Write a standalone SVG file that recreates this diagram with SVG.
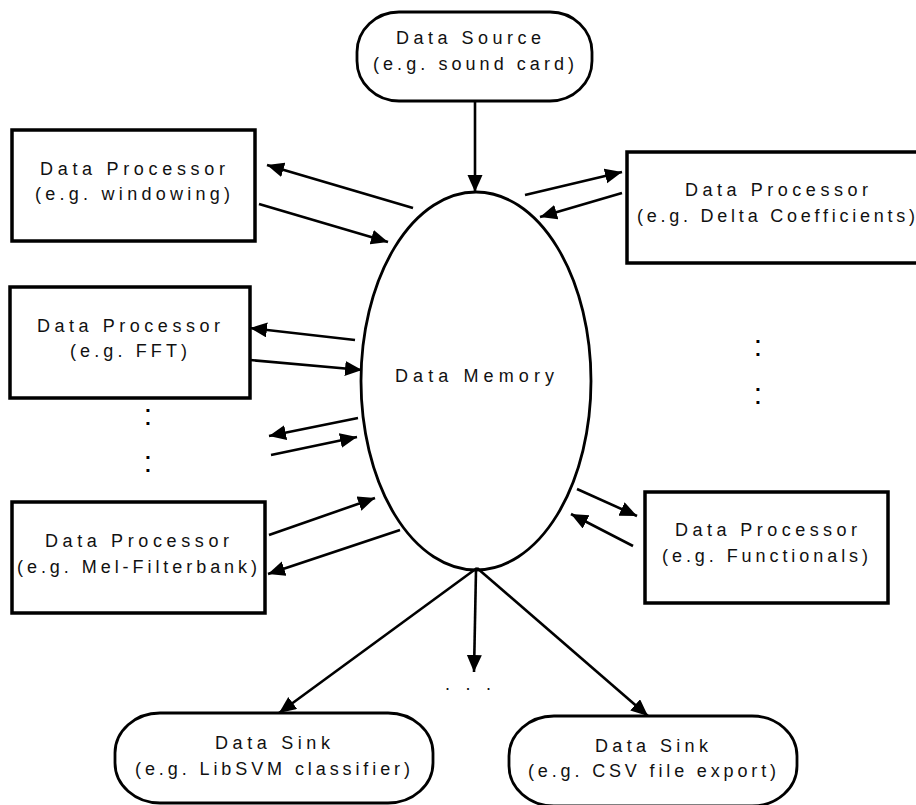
<svg xmlns="http://www.w3.org/2000/svg" width="916" height="805" viewBox="0 0 916 805">
<defs>
<style>
.box{fill:#fff;stroke:#000;stroke-width:3.5}
.rbox{fill:#fff;stroke:#000;stroke-width:2.8}
.t{font-family:"Liberation Sans",Arial,sans-serif;font-size:18px;fill:#111}
.dot{font-family:"Liberation Sans",Arial,sans-serif;font-size:30px;fill:#000;text-anchor:middle}
.c line{stroke:#000;stroke-width:2.6;marker-end:url(#ah)}
</style>
<marker id="ah" markerUnits="userSpaceOnUse" markerWidth="18" markerHeight="16" refX="17" refY="7.5" orient="auto">
<path d="M0,0 L17,7.5 L0,15 z" fill="#000"/>
</marker>
</defs>
<rect width="916" height="805" fill="#fff"/>

<g id="source">
<rect class="rbox" x="357" y="12" width="235" height="89" rx="42" ry="40"/>
<text class="t" x="396" y="44" textLength="145" lengthAdjust="spacing">Data Source</text>
<text class="t" x="373" y="70" textLength="201" lengthAdjust="spacing">(e.g. sound card)</text>
</g>

<g id="memory">
<ellipse cx="476" cy="381" rx="115" ry="189" fill="#fff" stroke="#000" stroke-width="2.8"/>
<text class="t" x="395" y="382" textLength="159" lengthAdjust="spacing">Data Memory</text>
</g>

<g id="proc-windowing">
<rect class="box" x="12" y="130" width="243" height="111"/>
<text class="t" x="40" y="175" textLength="185" lengthAdjust="spacing">Data Processor</text>
<text class="t" x="35" y="200" textLength="195" lengthAdjust="spacing">(e.g. windowing)</text>
</g>

<g id="proc-fft">
<rect class="box" x="10" y="287" width="240" height="111"/>
<text class="t" x="37" y="332" textLength="183" lengthAdjust="spacing">Data Processor</text>
<text class="t" x="70" y="357" textLength="117" lengthAdjust="spacing">(e.g. FFT)</text>
</g>

<g id="proc-mel">
<rect class="box" x="12" y="502" width="253" height="111"/>
<text class="t" x="45" y="547" textLength="184" lengthAdjust="spacing">Data Processor</text>
<text class="t" x="17" y="573" textLength="240" lengthAdjust="spacing">(e.g. Mel-Filterbank)</text>
</g>

<g id="proc-delta">
<rect class="box" x="627" y="152" width="295" height="111"/>
<text class="t" x="685" y="196" textLength="183" lengthAdjust="spacing">Data Processor</text>
<text class="t" x="637" y="222" textLength="278" lengthAdjust="spacing">(e.g. Delta Coefficients)</text>
</g>

<g id="proc-functionals">
<rect class="box" x="645" y="492" width="243" height="111"/>
<text class="t" x="675" y="536" textLength="182" lengthAdjust="spacing">Data Processor</text>
<text class="t" x="662" y="562" textLength="206" lengthAdjust="spacing">(e.g. Functionals)</text>
</g>

<g id="sink-libsvm">
<rect class="rbox" x="115" y="713" width="318" height="90" rx="45" ry="40"/>
<text class="t" x="215" y="749" textLength="115" lengthAdjust="spacing">Data Sink</text>
<text class="t" x="135" y="775" textLength="275" lengthAdjust="spacing">(e.g. LibSVM classifier)</text>
</g>

<g id="sink-csv">
<rect class="rbox" x="509" y="716" width="288" height="90" rx="45" ry="40"/>
<text class="t" x="595" y="752" textLength="113" lengthAdjust="spacing">Data Sink</text>
<text class="t" x="528" y="777" textLength="248" lengthAdjust="spacing">(e.g. CSV file export)</text>
</g>

<g id="ellipses">
<text class="dot" x="148" y="425">:</text>
<text class="dot" x="148" y="472">:</text>
<text class="dot" x="758" y="356">:</text>
<text class="dot" x="758" y="404">:</text>
<text class="t" x="445" y="690" textLength="46" lengthAdjust="spacing">...</text>
</g>

<g id="connectors" class="c">
<line x1="475" y1="101" x2="475" y2="192"/>
<line x1="413" y1="208" x2="267" y2="165"/>
<line x1="259" y1="204" x2="388" y2="242"/>
<line x1="355" y1="340" x2="250" y2="328"/>
<line x1="250" y1="360" x2="362" y2="370"/>
<line x1="358" y1="418" x2="269" y2="436"/>
<line x1="271" y1="455" x2="357" y2="437"/>
<line x1="269" y1="535" x2="375" y2="498"/>
<line x1="400" y1="530" x2="268" y2="574"/>
<line x1="525" y1="195" x2="622" y2="172"/>
<line x1="622" y1="193" x2="540" y2="217"/>
<line x1="577" y1="489" x2="637" y2="516"/>
<line x1="633" y1="546" x2="571" y2="514"/>
<line x1="477" y1="568" x2="279" y2="713"/>
<line x1="476" y1="570" x2="474" y2="672"/>
<line x1="477" y1="568" x2="648" y2="716"/>
</g>
</svg>
